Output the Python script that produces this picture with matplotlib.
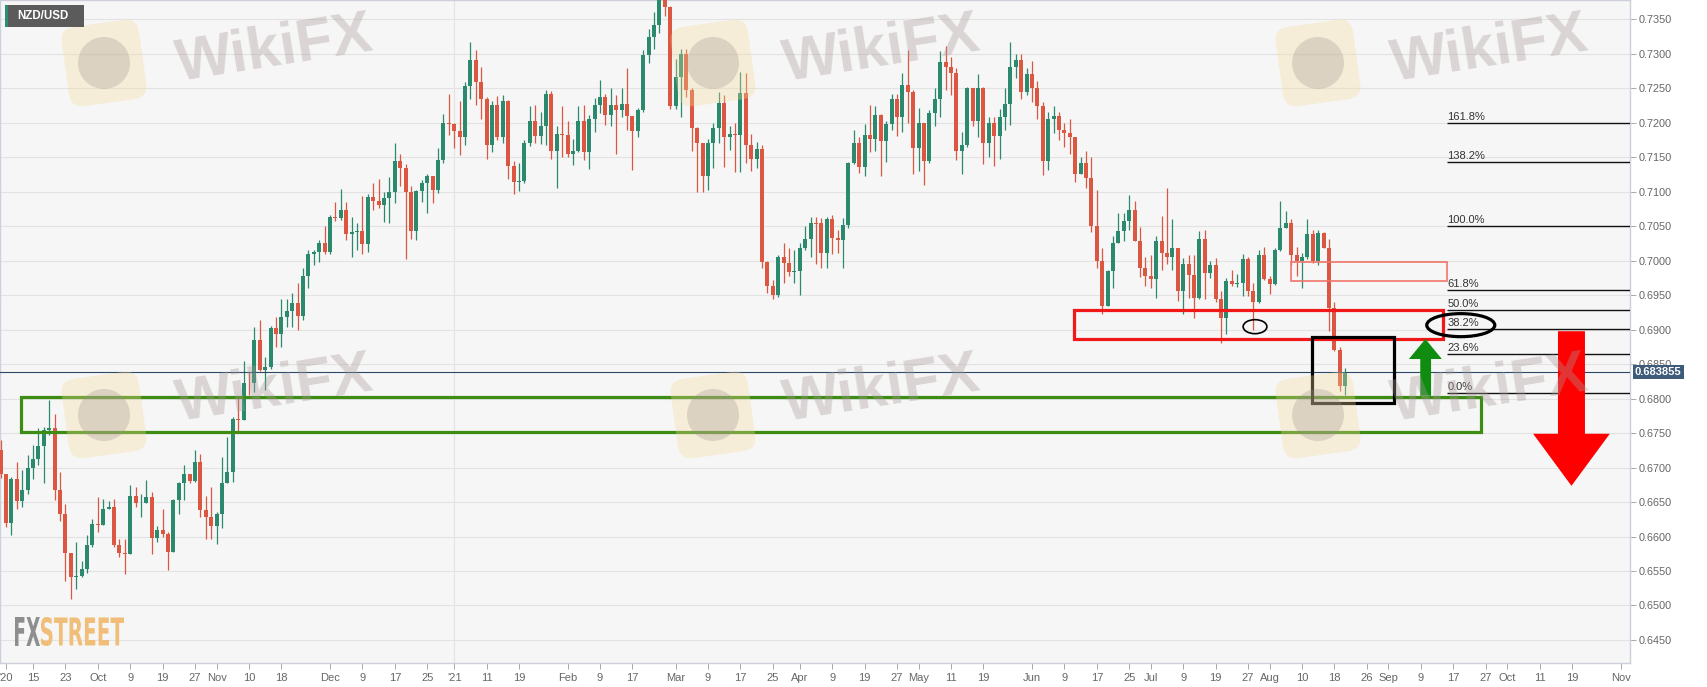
import numpy as np
import pandas as pd
import matplotlib
matplotlib.use('Agg')
import matplotlib.pyplot as plt
from matplotlib.patches import Rectangle, Ellipse, Polygon, FancyBboxPatch, PathPatch, Circle
from matplotlib.textpath import TextPath
from matplotlib.font_manager import FontProperties
from matplotlib.transforms import Affine2D, IdentityTransform, blended_transform_factory
from matplotlib.ticker import MultipleLocator, FormatStrFormatter, FixedLocator

plt.rcParams['font.family'] = ['Liberation Sans', 'DejaVu Sans']

# NZD/USD daily candles, every weekday from 2020-09-07 to 2021-08-20
start_day = '2020-09-07'
end_day = '2021-08-20'
first_open = 0.6725
close = [
    0.6691, 0.6620, 0.6684, 0.6652, 0.6667, 0.6700, 0.6713, 0.6731, 0.6755, 0.6757,
    0.6667, 0.6632, 0.6576, 0.6541, 0.6543, 0.6553, 0.6587, 0.6618, 0.6616, 0.6640,
    0.6643, 0.6587, 0.6576, 0.6575, 0.6659, 0.6648, 0.6649, 0.6657, 0.6598, 0.6610,
    0.6603, 0.6578, 0.6653, 0.6677, 0.6690, 0.6680, 0.6708, 0.6639, 0.6628, 0.6615,
    0.6633, 0.6677, 0.6694, 0.6771, 0.6769, 0.6823, 0.6822, 0.6885, 0.6841, 0.6846,
    0.6903, 0.6894, 0.6919, 0.6927, 0.6938, 0.6920, 0.6978, 0.7010, 0.7013, 0.7026,
    0.7012, 0.7064, 0.7062, 0.7074, 0.7039, 0.7042, 0.7043, 0.7024, 0.7093, 0.7087,
    0.7081, 0.7091, 0.7099, 0.7145, 0.7135, 0.7099, 0.7043, 0.7101, 0.7113, 0.7123,
    0.7102, 0.7146, 0.7199, 0.7198, 0.7188, 0.7179, 0.7253, 0.7291, 0.7259, 0.7234,
    0.7168, 0.7226, 0.7180, 0.7232, 0.7138, 0.7114, 0.7116, 0.7171, 0.7202, 0.7181,
    0.7196, 0.7242, 0.7159, 0.7184, 0.7182, 0.7155, 0.7159, 0.7203, 0.7158, 0.7206,
    0.7226, 0.7238, 0.7211, 0.7226, 0.7219, 0.7227, 0.7210, 0.7188, 0.7219, 0.7298,
    0.7325, 0.7342, 0.7385, 0.7368, 0.7224, 0.7266, 0.7300, 0.7248, 0.7193, 0.7170,
    0.7123, 0.7171, 0.7193, 0.7229, 0.7180, 0.7184, 0.7182, 0.7243, 0.7168, 0.7148,
    0.7162, 0.6998, 0.6963, 0.6950, 0.7005, 0.6996, 0.6984, 0.6985, 0.7018, 0.7031,
    0.7055, 0.7054, 0.7011, 0.7060, 0.7033, 0.7030, 0.7052, 0.7141, 0.7170, 0.7136,
    0.7182, 0.7176, 0.7211, 0.7174, 0.7198, 0.7235, 0.7209, 0.7255, 0.7244, 0.7164,
    0.7200, 0.7144, 0.7214, 0.7234, 0.7288, 0.7281, 0.7272, 0.7159, 0.7168, 0.7250,
    0.7203, 0.7250, 0.7170, 0.7199, 0.7181, 0.7208, 0.7227, 0.7281, 0.7291, 0.7245,
    0.7270, 0.7250, 0.7225, 0.7144, 0.7205, 0.7210, 0.7190, 0.7185, 0.7180, 0.7126,
    0.7142, 0.7120, 0.7050, 0.6999, 0.6934, 0.6985, 0.7026, 0.7043, 0.7058, 0.7073,
    0.7029, 0.6990, 0.6978, 0.6974, 0.7028, 0.7011, 0.7005, 0.7018, 0.6956, 0.6995,
    0.6979, 0.6946, 0.7031, 0.6982, 0.6994, 0.6944, 0.6917, 0.6970, 0.6966, 0.6968,
    0.7003, 0.6956, 0.6940, 0.7008, 0.6973, 0.6966, 0.7016, 0.7047, 0.7055, 0.7008,
    0.6999, 0.7006, 0.7039, 0.6999, 0.7040, 0.7019, 0.6932, 0.6871, 0.6818, 0.6838,
]
high = [
    0.6740, 0.6691, 0.6687, 0.6708, 0.6696, 0.6718, 0.6732, 0.6758, 0.6759, 0.6798,
    0.6778, 0.6694, 0.6647, 0.6576, 0.6592, 0.6565, 0.6602, 0.6626, 0.6657, 0.6655,
    0.6652, 0.6655, 0.6597, 0.6597, 0.6674, 0.6672, 0.6662, 0.6682, 0.6665, 0.6615,
    0.6640, 0.6607, 0.6655, 0.6679, 0.6703, 0.6691, 0.6726, 0.6720, 0.6659, 0.6672,
    0.6635, 0.6716, 0.6744, 0.6774, 0.6803, 0.6855, 0.6839, 0.6904, 0.6914, 0.6860,
    0.6905, 0.6919, 0.6945, 0.6945, 0.6953, 0.6967, 0.6989, 0.7015, 0.7016, 0.7030,
    0.7051, 0.7066, 0.7085, 0.7104, 0.7085, 0.7063, 0.7055, 0.7094, 0.7097, 0.7113,
    0.7119, 0.7100, 0.7121, 0.7171, 0.7154, 0.7140, 0.7109, 0.7102, 0.7117, 0.7126,
    0.7115, 0.7164, 0.7212, 0.7241, 0.7199, 0.7231, 0.7259, 0.7317, 0.7306, 0.7281,
    0.7237, 0.7232, 0.7239, 0.7240, 0.7233, 0.7145, 0.7141, 0.7175, 0.7224, 0.7226,
    0.7216, 0.7248, 0.7246, 0.7195, 0.7224, 0.7203, 0.7177, 0.7224, 0.7226, 0.7211,
    0.7236, 0.7262, 0.7241, 0.7250, 0.7240, 0.7250, 0.7280, 0.7206, 0.7222, 0.7305,
    0.7336, 0.7360, 0.7400, 0.7465, 0.7370, 0.7293, 0.7307, 0.7307, 0.7250, 0.7194,
    0.7165, 0.7177, 0.7200, 0.7244, 0.7240, 0.7195, 0.7200, 0.7273, 0.7272, 0.7183,
    0.7172, 0.7168, 0.7000, 0.6972, 0.7008, 0.7026, 0.7018, 0.7016, 0.7025, 0.7050,
    0.7064, 0.7064, 0.7062, 0.7064, 0.7066, 0.7045, 0.7062, 0.7143, 0.7190, 0.7180,
    0.7198, 0.7226, 0.7225, 0.7212, 0.7203, 0.7241, 0.7242, 0.7272, 0.7306, 0.7248,
    0.7222, 0.7200, 0.7219, 0.7250, 0.7304, 0.7312, 0.7295, 0.7280, 0.7186, 0.7252,
    0.7250, 0.7270, 0.7252, 0.7208, 0.7208, 0.7220, 0.7250, 0.7317, 0.7300, 0.7300,
    0.7280, 0.7290, 0.7260, 0.7230, 0.7215, 0.7225, 0.7215, 0.7200, 0.7205, 0.7180,
    0.7151, 0.7159, 0.7150, 0.7102, 0.7018, 0.6987, 0.7036, 0.7069, 0.7069, 0.7095,
    0.7086, 0.7049, 0.7005, 0.7008, 0.7036, 0.7065, 0.7105, 0.7060, 0.7018, 0.7004,
    0.7008, 0.7008, 0.7043, 0.7044, 0.7000, 0.7004, 0.6956, 0.6975, 0.6987, 0.6980,
    0.7009, 0.7005, 0.6968, 0.7016, 0.7020, 0.6978, 0.7019, 0.7086, 0.7072, 0.7060,
    0.7020, 0.7011, 0.7060, 0.7045, 0.7045, 0.7042, 0.7031, 0.6940, 0.6875, 0.6845,
]
low = [
    0.6685, 0.6614, 0.6602, 0.6640, 0.6643, 0.6661, 0.6684, 0.6703, 0.6677, 0.6747,
    0.6653, 0.6623, 0.6536, 0.6510, 0.6524, 0.6541, 0.6547, 0.6585, 0.6607, 0.6616,
    0.6640, 0.6585, 0.6570, 0.6546, 0.6575, 0.6643, 0.6628, 0.6648, 0.6575, 0.6592,
    0.6599, 0.6551, 0.6577, 0.6633, 0.6653, 0.6677, 0.6679, 0.6628, 0.6597, 0.6597,
    0.6589, 0.6612, 0.6678, 0.6679, 0.6752, 0.6783, 0.6805, 0.6810, 0.6840, 0.6812,
    0.6843, 0.6875, 0.6875, 0.6904, 0.6904, 0.6899, 0.6914, 0.6960, 0.6994, 0.6998,
    0.7010, 0.7010, 0.7057, 0.7059, 0.7030, 0.7005, 0.7015, 0.7010, 0.7012, 0.7074,
    0.7077, 0.7056, 0.7055, 0.7084, 0.7109, 0.7002, 0.7031, 0.7030, 0.7085, 0.7069,
    0.7083, 0.7098, 0.7142, 0.7182, 0.7163, 0.7153, 0.7168, 0.7235, 0.7226, 0.7205,
    0.7147, 0.7158, 0.7175, 0.7170, 0.7118, 0.7096, 0.7101, 0.7113, 0.7166, 0.7170,
    0.7169, 0.7168, 0.7147, 0.7105, 0.7151, 0.7150, 0.7139, 0.7157, 0.7146, 0.7133,
    0.7187, 0.7214, 0.7197, 0.7195, 0.7154, 0.7208, 0.7190, 0.7131, 0.7180, 0.7216,
    0.7287, 0.7307, 0.7330, 0.7355, 0.7220, 0.7220, 0.7209, 0.7238, 0.7159, 0.7100,
    0.7100, 0.7102, 0.7135, 0.7171, 0.7136, 0.7161, 0.7128, 0.7128, 0.7141, 0.7130,
    0.7134, 0.6990, 0.6953, 0.6945, 0.6948, 0.6968, 0.6978, 0.6967, 0.6950, 0.7015,
    0.7006, 0.6995, 0.6990, 0.6990, 0.7010, 0.7011, 0.6990, 0.7047, 0.7140, 0.7127,
    0.7123, 0.7158, 0.7159, 0.7123, 0.7143, 0.7189, 0.7181, 0.7186, 0.7200, 0.7125,
    0.7130, 0.7110, 0.7141, 0.7196, 0.7209, 0.7248, 0.7240, 0.7146, 0.7126, 0.7165,
    0.7195, 0.7180, 0.7140, 0.7150, 0.7138, 0.7148, 0.7190, 0.7197, 0.7265, 0.7235,
    0.7240, 0.7230, 0.7205, 0.7124, 0.7131, 0.7185, 0.7175, 0.7165, 0.7155, 0.7114,
    0.7125, 0.7106, 0.7042, 0.6990, 0.6922, 0.6934, 0.6961, 0.7028, 0.7028, 0.7045,
    0.7028, 0.6976, 0.6963, 0.6961, 0.6946, 0.6987, 0.6995, 0.6987, 0.6941, 0.6922,
    0.6946, 0.6917, 0.6944, 0.6944, 0.6975, 0.6940, 0.6881, 0.6893, 0.6963, 0.6962,
    0.6949, 0.6949, 0.6900, 0.6939, 0.6972, 0.6951, 0.6965, 0.7014, 0.7047, 0.6994,
    0.6978, 0.6961, 0.7002, 0.6997, 0.6994, 0.7018, 0.6898, 0.6869, 0.6811, 0.6805,
]

# date axis labels
tick_dates = ['2020-09-08', '2020-09-15', '2020-09-23', '2020-10-01', '2020-10-09', '2020-10-19',
              '2020-10-27', '2020-11-02', '2020-11-10', '2020-11-18', '2020-12-01', '2020-12-09',
              '2020-12-17', '2020-12-25', '2021-01-01', '2021-01-11', '2021-01-19', '2021-02-01',
              '2021-02-09', '2021-02-17', '2021-03-01', '2021-03-09', '2021-03-17', '2021-03-25',
              '2021-04-01', '2021-04-09', '2021-04-19', '2021-04-27', '2021-05-03', '2021-05-11',
              '2021-05-19', '2021-06-01', '2021-06-09', '2021-06-17', '2021-06-25', '2021-07-01',
              '2021-07-09', '2021-07-19', '2021-07-27', '2021-08-02', '2021-08-10', '2021-08-18',
              '2021-08-26', '2021-09-01', '2021-09-09', '2021-09-17', '2021-09-27', '2021-10-01',
              '2021-10-11', '2021-10-19', '2021-11-01']
tick_labels = ["'20", '15', '23', 'Oct', '9', '19', '27', 'Nov', '10', '18', 'Dec', '9',
               '17', '25', "'21", '11', '19', 'Feb', '9', '17', 'Mar', '9', '17', '25',
               'Apr', '9', '19', '27', 'May', '11', '19', 'Jun', '9', '17', '25', 'Jul',
               '9', '19', '27', 'Aug', '10', '18', '26', 'Sep', '9', '17', '27', 'Oct',
               '11', '19', 'Nov']

last_price = 0.683855

# fibonacci retracement drawn from the swing low to the swing high
fib_low = 0.6808
fib_high = 0.7050
fib_levels = [0.0, 23.6, 38.2, 50.0, 61.8, 100.0, 138.2, 161.8]

W, H = 1707, 687
origin = np.datetime64('2020-09-01')
days = pd.bdate_range(start_day, end_day).values.astype('datetime64[D]')
x = np.busday_count(origin, days)
c = np.array(close)
o = np.r_[first_open, c[:-1]]
h = np.maximum(np.array(high), np.maximum(o, c))
l = np.minimum(np.array(low), np.minimum(o, c))

fig = plt.figure(figsize=(W / 100, H / 100), dpi=100, facecolor='white')
ax = fig.add_axes([0, 24 / H, 1630 / W, 663 / H])
ax.set_facecolor('#f6f6f6')
xmax = 305.74
ax.set_xlim(3.89, xmax)
ax.set_ylim(0.64166, 0.73780)

ax.yaxis.set_major_locator(MultipleLocator(0.005))
ax.yaxis.set_major_formatter(FormatStrFormatter('%.4f'))
ax.grid(axis='y', color='#e3e3e3', lw=0.8, zorder=0)
ax.set_axisbelow(True)
year_x = np.busday_count(origin, np.datetime64('2021-01-01'))
ax.axvline(year_x, color='#e3e3e3', lw=0.8, zorder=0)

tx = np.busday_count(origin, np.array(tick_dates, dtype='datetime64[D]'))
ax.xaxis.set_major_locator(FixedLocator(tx))
ax.set_xticklabels(tick_labels)
ax.yaxis.tick_right()
ax.tick_params(axis='y', length=4, width=0.7, color='#a8a8a8', labelcolor='#666666',
               labelsize=7.8, pad=2.5)
ax.tick_params(axis='x', length=4, width=0.7, color='#a8a8a8', labelcolor='#666666',
               labelsize=8, pad=3)
for s in ax.spines.values():
    s.set_color('#cdd0dc')
    s.set_linewidth(1)

# candles
up = c >= o
col = np.where(up, '#2b8a6d', '#dc5741')
ax.vlines(x, l, h, colors=col, lw=0.9, zorder=3)
raw = np.abs(c - o)
body = np.maximum(raw, 0.00012)
ax.bar(x, body, bottom=np.minimum(o, c) - (body - raw) / 2, width=0.72, color=col,
       lw=0, zorder=4)

# current price
ax.axhline(last_price, color='#2c4866', lw=0.8, zorder=5)
ax.text(1.003, last_price, f'{last_price:.6f}', transform=blended_transform_factory(ax.transAxes, ax.transData),
        ha='left', va='center', color='white', fontsize=8, weight='bold', zorder=10, clip_on=False,
        bbox=dict(boxstyle='square,pad=0.18', fc='#3e5b7a', ec='none'))

# fibonacci levels
fx0 = 271.9
for lv in fib_levels:
    p = fib_low + (fib_high - fib_low) * lv / 100
    ax.plot([fx0, xmax], [p, p], color='#111111', lw=1.0, zorder=5, solid_capstyle='butt')
    ax.text(fx0, p + 0.00014, f'{lv:.1f}%', fontsize=8, color='#333333', ha='left', va='bottom', zorder=7)

# hand drawn zones and arrows
ax.add_patch(Rectangle((7.7, 0.6751), 270.4, 0.0052, fill=False, ec='#3d8c14', lw=2.3, zorder=6))
ax.add_patch(Rectangle((202.8, 0.6886), 68.3, 0.0043, fill=False, ec='#f01818', lw=2.3, zorder=6))
ax.add_patch(Rectangle((243.0, 0.6971), 28.9, 0.0027, fill=False, ec='#f0756a', lw=1.2, zorder=6))
ax.add_patch(Rectangle((246.9, 0.6794), 15.1, 0.0095, fill=False, ec='black', lw=2.3, zorder=6))
ax.add_patch(Ellipse((274.4, 0.69065), 12.6, 0.00334, fill=False, ec='black', lw=2.3, zorder=8))
ax.add_patch(Ellipse((236.3, 0.69043), 4.4, 0.00203, fill=False, ec='black', lw=1.2, zorder=8))

ga = [(266.9, 0.68041), (266.9, 0.68574), (264.8, 0.68574), (267.85, 0.68864),
      (270.9, 0.68574), (268.9, 0.68574), (268.9, 0.68041)]
ax.add_patch(Polygon(ga, closed=True, fc='#108c10', ec='none', zorder=8))
ra = [(292.4, 0.68977), (292.4, 0.67490), (287.8, 0.67490), (294.9, 0.66735),
      (302.0, 0.67490), (297.4, 0.67490), (297.4, 0.68977)]
ax.add_patch(Polygon(ra, closed=True, fc='#ff0000', ec='none', zorder=8))

# symbol tag
fig.add_artist(Rectangle((5, H - 27), 79, 22, transform=IdentityTransform(), fc='#5b5b5b', ec='none', zorder=20))
fig.add_artist(Rectangle((5, H - 27), 2.5, 22, transform=IdentityTransform(), fc='#2b8f6f', ec='none', zorder=21))
fig.text(17 / W, 1 - 16 / H, 'NZD/USD', color='white', fontsize=8.3, weight='bold', ha='left', va='center', zorder=22)

# WikiFX watermarks
for lx, tx_ in [(104, 275), (713, 882), (1318, 1490)]:
    for ly, ty in [(63, 50), (415, 390)]:
        rot = Affine2D().rotate_deg_around(lx, H - ly, 8)
        fig.add_artist(FancyBboxPatch((lx - 39, H - ly - 40), 78, 80, boxstyle='round,pad=0,rounding_size=14',
                                      transform=rot, fc='#f3da96', ec='none', alpha=0.32, zorder=15))
        fig.add_artist(Circle((lx, H - ly), 26, transform=IdentityTransform(), fc='#9a8d8d', ec='none',
                              alpha=0.28, zorder=16))
        fig.text(tx_ / W, 1 - ty / H, 'WikiFX', fontsize=43, weight='bold', color='#a99c98', alpha=0.36,
                 rotation=9, ha='center', va='center', rotation_mode='anchor', zorder=16)

# FXSTREET logo
fp = FontProperties(family='DejaVu Sans', weight='bold')
for word, x0, wid, fc in [('FX', 15, 25, '#8e8e8e'), ('STREET', 41, 83, '#f0be78')]:
    tp = TextPath((0, 0), word, size=40, prop=fp)
    e = tp.get_extents()
    tr = Affine2D().translate(-e.x0, -e.y0).scale(wid / e.width, 29 / e.height).translate(x0, H - 646)
    fig.add_artist(PathPatch(tp, transform=tr, fc=fc, ec='none', zorder=17))

fig.savefig('out.png', dpi=100, facecolor='white')
